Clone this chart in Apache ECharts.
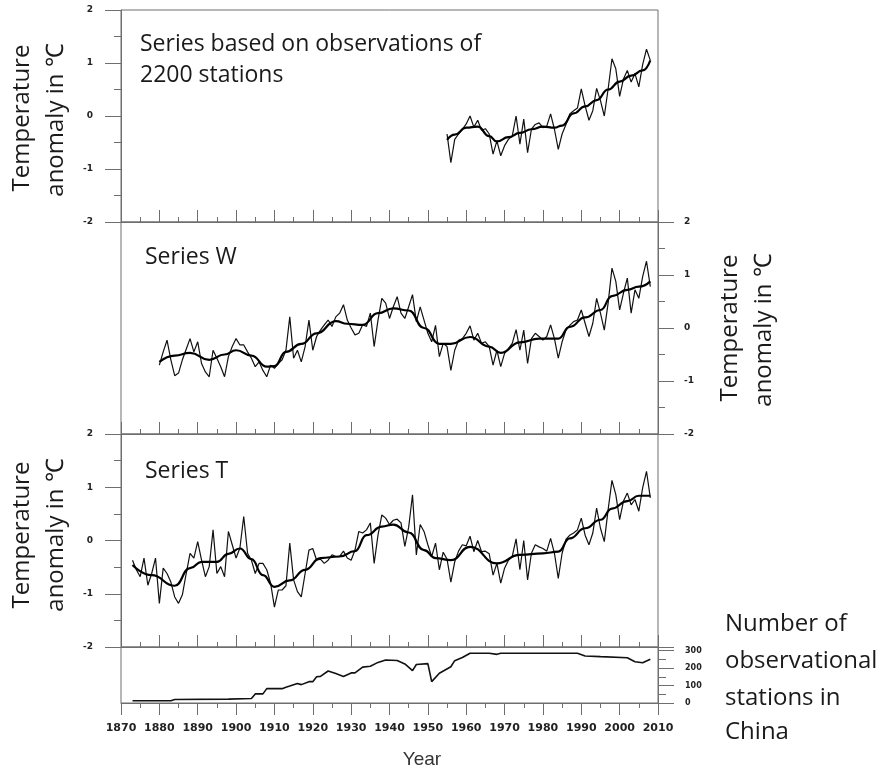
<!DOCTYPE html>
<html>
<head>
<meta charset="utf-8">
<script src="https://cdn.jsdelivr.net/npm/echarts@6/dist/echarts.min.js"></script>
<style>html,body{margin:0;padding:0;background:#fff;}#c{width:883px;height:772px;}</style>
</head>
<body>
<div id="c"></div>
<script>
// ---- Data ----
const allStart = 1955;   // series based on 2200 stations
const tempAll = [
  -0.34,-0.88,-0.44,-0.34,-0.25,
  -0.15,0.0,-0.21,-0.08,-0.27,-0.24,-0.34,-0.72,-0.47,-0.75,
  -0.56,-0.44,-0.38,0.0,-0.53,-0.06,-0.69,-0.25,-0.16,-0.13,
  -0.22,-0.19,0.04,-0.25,-0.63,-0.34,-0.16,0.04,0.1,0.15,
  0.51,0.19,-0.08,0.1,0.52,0.29,0.0,0.51,1.08,0.89,
  0.37,0.7,0.86,0.64,0.8,0.55,0.97,1.26,1.05
];
const smoothAllYears = [1955,1957,1960,1963,1966,1968,1971,1974,1977,1980,1983,1985,1988,1991,1994,1997,2000,2003,2006,2008];
const smoothAllVals  = [-0.45,-0.35,-0.22,-0.2,-0.38,-0.48,-0.4,-0.32,-0.25,-0.2,-0.22,-0.18,0.05,0.18,0.3,0.5,0.65,0.76,0.86,1.05];

const wStart = 1880;     // Series W
const tempW = [
  -0.7,-0.45,-0.23,-0.6,-0.9,-0.85,-0.6,-0.4,-0.2,-0.45,
  -0.26,-0.67,-0.83,-0.92,-0.42,-0.57,-0.73,-0.92,-0.54,-0.35,
  -0.2,-0.32,-0.32,-0.45,-0.57,-0.73,-0.64,-0.8,-0.92,-0.7,
  -0.76,-0.67,-0.6,-0.42,0.21,-0.57,-0.42,-0.64,-0.35,0.15,
  -0.42,-0.16,-0.04,0.06,0.15,0.03,0.21,0.28,0.44,0.15,
  0.0,-0.13,-0.1,0.06,0.03,0.28,-0.35,0.15,0.56,0.47,
  0.18,0.4,0.59,0.28,0.18,0.4,0.63,0.12,0.4,0.15,
  -0.1,-0.26,0.05,-0.54,-0.29,-0.35,-0.8,-0.42,-0.23,-0.2,
  -0.1,0.04,-0.23,-0.1,-0.29,-0.26,-0.35,-0.7,-0.42,-0.73,
  -0.48,-0.39,-0.29,-0.03,-0.42,-0.04,-0.67,-0.2,-0.1,-0.16,
  -0.23,-0.16,0.06,-0.2,-0.57,-0.26,-0.04,0.05,0.12,0.15,
  0.34,0.09,-0.16,0.09,0.56,0.28,-0.04,0.47,1.13,0.88,
  0.34,0.66,0.94,0.28,0.72,0.56,0.97,1.26,0.78
];
const smoothWYears = [1880,1884,1888,1893,1897,1900,1904,1908,1910,1913,1917,1921,1926,1929,1933,1937,1941,1945,1949,1953,1956,1961,1966,1969,1974,1979,1984,1987,1991,1995,1998,2002,2005,2008];
const smoothWVals  = [-0.64,-0.52,-0.47,-0.6,-0.5,-0.42,-0.52,-0.73,-0.72,-0.45,-0.3,-0.1,0.13,0.08,0.06,0.28,0.37,0.33,0.0,-0.3,-0.3,-0.17,-0.35,-0.47,-0.27,-0.2,-0.2,0.02,0.2,0.34,0.6,0.72,0.78,0.88];

const tStart = 1873;     // Series T
const tempT = [
  -0.37,-0.55,-0.68,-0.33,-0.84,-0.62,-0.33,
  -1.18,-0.52,-0.62,-0.78,-1.06,-1.18,-1.02,-0.62,-0.24,-0.33,
  -0.02,-0.37,-0.68,-0.49,0.2,-0.62,-0.49,-0.68,0.17,-0.08,
  -0.33,-0.14,0.45,-0.24,-0.37,-0.62,-0.43,-0.43,-0.55,-0.8,
  -1.25,-0.93,-0.93,-0.85,-0.05,-0.74,-0.96,-1.06,-0.62,-0.18,
  -0.15,-0.37,-0.35,-0.43,-0.37,-0.27,-0.3,-0.3,-0.2,-0.33,
  -0.37,-0.18,0.17,0.14,0.2,0.33,-0.43,0.1,0.48,0.42,
  0.3,0.38,0.4,0.33,-0.11,0.25,0.86,-0.27,0.3,0.17,
  -0.08,-0.3,-0.05,-0.55,-0.22,-0.35,-0.78,-0.4,-0.2,-0.08,
  -0.1,0.08,-0.21,0.0,-0.21,-0.2,-0.25,-0.65,-0.43,-0.8,
  -0.52,-0.37,-0.3,0.03,-0.55,0.0,-0.74,-0.24,-0.08,-0.12,
  -0.15,-0.2,0.04,-0.24,-0.71,-0.24,0.02,0.1,0.14,0.2,
  0.42,0.1,-0.08,0.14,0.61,0.23,-0.02,0.58,1.13,0.86,
  0.39,0.74,0.89,0.67,0.77,0.55,0.99,1.3,0.8
];
const smoothTYears = [1873,1878,1884,1888,1891,1895,1898,1901,1904,1907,1910,1914,1918,1922,1927,1931,1934,1938,1941,1945,1949,1952,1956,1961,1968,1974,1980,1984,1987,1991,1995,1998,2002,2005,2008];
const smoothTVals  = [-0.46,-0.65,-0.85,-0.52,-0.4,-0.4,-0.25,-0.15,-0.35,-0.65,-0.87,-0.75,-0.55,-0.33,-0.3,-0.2,0.1,0.26,0.3,0.15,-0.18,-0.33,-0.37,-0.12,-0.43,-0.27,-0.24,-0.21,0.04,0.23,0.39,0.6,0.74,0.84,0.84];

const stationYears  = [1873,1883,1884,1898,1904,1905,1907,1908,1912,1913,1914,1916,1917,1919,1920,1921,1922,1924,1926,1928,1930,1931,1933,1935,1937,1939,1942,1944,1946,1947,1950,1951,1953,1956,1957,1959,1961,1966,1968,1969,1989,1991,1995,2002,2004,2006,2008];
const stationCounts = [13,13,20,22,26,52,52,82,82,90,97,112,105,122,122,150,152,183,168,152,172,172,205,210,232,246,243,223,185,220,225,122,170,207,242,260,284,284,278,284,284,269,265,259,236,230,250];

const yearTicks = {min: 1870, max: 2010, interval: 10};
const tempTicks = {min: -2, max: 2, interval: 1};
const stationTicks = {min: 0, max: 320, interval: 100};

// ---- Build ----
const pairs = (start, arr) => arr.map((v, i) => [start + i, v]);
const zip = (xs, ys) => xs.map((x, i) => [x, ys[i]]);

const axisGray = '#6e6e6e';
const tickFont = {fontFamily: 'DejaVu Sans', fontWeight: 'bold', color: '#222'};
const grids = [
  {left: 121, right: 225, top: 10, height: 212},
  {left: 121, right: 225, top: 222, height: 212},
  {left: 121, right: 225, top: 434, height: 213},
  {left: 121, right: 225, top: 647, height: 56}
].map(g => Object.assign(g, {show: true, borderColor: axisGray, borderWidth: 1, containLabel: false}));

const xAxes = grids.map((g, i) => ({
  type: 'value', gridIndex: i, position: 'bottom',
  min: yearTicks.min, max: yearTicks.max, interval: yearTicks.interval,
  axisLine: {show: true, onZero: false, lineStyle: {color: axisGray, width: 1}},
  axisTick: {show: true, inside: i < 3, length: 12, lineStyle: {color: axisGray}},
  minorTick: {show: true, splitNumber: 2, length: 5, lineStyle: {color: axisGray}},
  splitLine: {show: false},
  axisLabel: i === 3 ? Object.assign({show: true, fontSize: 11, margin: 20, formatter: v => String(v)}, tickFont) : {show: false}
}));

function tempAxis(i, pos) {
  return {
    type: 'value', gridIndex: i, position: pos,
    min: tempTicks.min, max: tempTicks.max, interval: tempTicks.interval,
    axisLine: {show: true, onZero: false, lineStyle: {color: axisGray}},
    axisTick: {show: true, inside: false, length: 16, lineStyle: {color: axisGray}},
    minorTick: {show: true, splitNumber: 2, length: 7, lineStyle: {color: axisGray}},
    splitLine: {show: false},
    axisLabel: Object.assign({show: true, fontSize: 9, margin: pos === 'left' ? 28 : 26}, tickFont)
  };
}
const yAxes = [
  tempAxis(0, 'left'),
  tempAxis(1, 'right'),
  tempAxis(2, 'left'),
  {
    type: 'value', gridIndex: 3, position: 'right',
    min: stationTicks.min, max: stationTicks.max, interval: stationTicks.interval,
    axisLine: {show: true, onZero: false, lineStyle: {color: axisGray}},
    axisTick: {show: true, inside: false, length: 16, lineStyle: {color: axisGray}},
    minorTick: {show: true, splitNumber: 2, length: 8, lineStyle: {color: axisGray}},
    splitLine: {show: false},
    axisLabel: Object.assign({show: true, fontSize: 8, margin: 27,
      formatter: v => (v % 100 === 0 ? String(v) : '')}, tickFont)
  }
];

const raw = (i, data) => ({type: 'line', xAxisIndex: i, yAxisIndex: i, data, symbol: 'none',
  lineStyle: {color: '#111', width: 1.2}, silent: true, animation: false});
const smooth = (i, data) => ({type: 'line', xAxisIndex: i, yAxisIndex: i, data, symbol: 'none',
  smooth: 0.5, smoothMonotone: 'x', lineStyle: {color: '#000', width: 2.2}, silent: true, animation: false});

const series = [
  raw(0, pairs(allStart, tempAll)), smooth(0, zip(smoothAllYears, smoothAllVals)),
  raw(1, pairs(wStart, tempW)), smooth(1, zip(smoothWYears, smoothWVals)),
  raw(2, pairs(tStart, tempT)), smooth(2, zip(smoothTYears, smoothTVals)),
  Object.assign(raw(3, zip(stationYears, stationCounts)), {lineStyle: {color: '#111', width: 1.6}})
];

const F = '"Open Sans"';
const txt = (text, x, y, size, extra) => Object.assign({type: 'text', x, y, silent: true,
  style: {text, font: size + 'px ' + F, fill: '#1a1a1a', textAlign: 'left', textVerticalAlign: 'middle'}}, extra || {});
const vtxt = (text, x, y) => ({type: 'text', x, y, rotation: Math.PI / 2, silent: true,
  style: {text, font: '24px ' + F, fill: '#1a1a1a', textAlign: 'center', textVerticalAlign: 'middle'}});

const graphic = [
  txt('Series based on observations of', 140, 44, 23),
  txt('2200 stations', 140, 75, 23),
  txt('Series W', 145, 257, 23),
  txt('Series T', 145, 471, 23),
  vtxt('Temperature', 22, 118), vtxt('anomaly in \u2103', 56, 120),
  vtxt('Temperature', 730, 328), vtxt('anomaly in \u2103', 764, 330),
  vtxt('Temperature', 22, 535), vtxt('anomaly in \u2103', 56, 535),
  txt('Number of', 725, 624, 24),
  txt('observational', 725, 661, 24),
  txt('stations in', 725, 698, 24),
  txt('China', 725, 732, 24),
  {type: 'text', x: 422, y: 760, silent: true,
   style: {text: 'Year', font: '19px "Liberation Sans"', fill: '#333', textAlign: 'center', textVerticalAlign: 'middle'}}
];

const chart = echarts.init(document.getElementById('c'), null, {renderer: 'canvas'});
chart.setOption({
  animation: false,
  backgroundColor: '#fff',
  grid: grids, xAxis: xAxes, yAxis: yAxes, series, graphic
});
</script>
</body>
</html>
